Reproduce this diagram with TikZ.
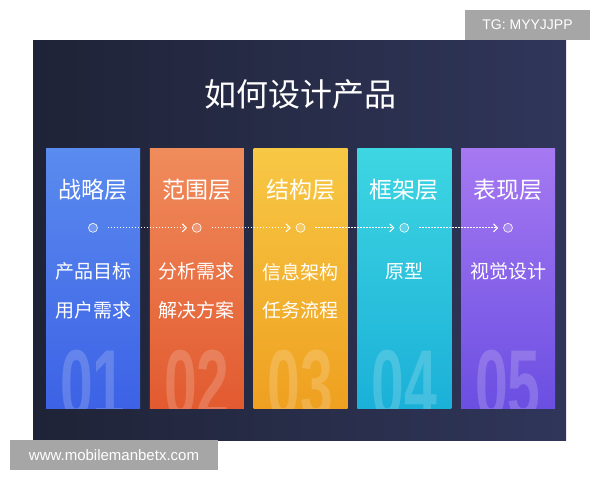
\documentclass[tikz,border=0pt]{standalone}
\usepackage{fontspec}
\setmainfont{Liberation Sans}
\newfontfamily\cjk{Noto Sans CJK SC}
\usetikzlibrary{positioning,arrows.meta}

\definecolor{bgleft}{HTML}{1F2337}
\definecolor{bgright}{HTML}{30365A}
\definecolor{blueA}{HTML}{5A8BEE}
\definecolor{blueB}{HTML}{3D62E6}
\definecolor{orangeA}{HTML}{F08C5C}
\definecolor{orangeB}{HTML}{E25A30}
\definecolor{yellowA}{HTML}{F7C845}
\definecolor{yellowB}{HTML}{EFA020}
\definecolor{cyanA}{HTML}{3ED6E2}
\definecolor{cyanB}{HTML}{1BB0D8}
\definecolor{purpleA}{HTML}{A679F2}
\definecolor{purpleB}{HTML}{6B4FE2}
\definecolor{markgray}{HTML}{A6A6A6}

\tikzset{
  layer/.style={rectangle, minimum width=94pt, minimum height=260pt, inner sep=0pt},
  numtext/.style={anchor=base, inner sep=0pt, xscale=0.6, text=white, text opacity=0.18,
    font=\bfseries\fontsize{98}{98}\selectfont},
  head/.style={text=white, font=\cjk\fontsize{23}{23}\selectfont},
  body/.style={text=white!92, font=\cjk\fontsize{19}{19}\selectfont},
  dot/.style={circle, draw=white!90, line width=0.6pt, fill=white, fill opacity=0.2,
    minimum size=9pt, inner sep=0pt},
  flow/.style={white!90, dash pattern=on 1.5pt off 1.5pt, line width=1pt,
    shorten <=10pt, shorten >=5pt, -{Straight Barb[length=4pt,width=8pt]}},
  wmark/.style={fill=markgray, text=white, inner sep=0pt, font=\fontsize{14}{14}\selectfont}
}

\begin{document}
\begin{tikzpicture}[x=1pt,y=-1pt,node distance=103.75pt,on grid]
   \useasboundingbox[fill=white] (0,0) rectangle (600,480);
   \shade[left color=bgleft, right color=bgright] (33,40) rectangle (566,440);

   \node[text=white, font=\cjk\fontsize{32}{32}\selectfont] (title) at (300,94) {如何设计产品};

   % the five layers
   \node[layer, top color=blueA, bottom color=blueB, path picture={
      \node[numtext] at ([yshift=-10pt]path picture bounding box.south) {01};}] (s1) at (93,278) {};
   \node[layer, top color=orangeA, bottom color=orangeB, path picture={
      \node[numtext] at ([yshift=-10pt]path picture bounding box.south) {02};}] (s2) [right=of s1] {};
   \node[layer, top color=yellowA, bottom color=yellowB, path picture={
      \node[numtext] at ([yshift=-10pt]path picture bounding box.south) {03};}] (s3) [right=of s2] {};
   \node[layer, top color=cyanA, bottom color=cyanB, path picture={
      \node[numtext] at ([yshift=-10pt]path picture bounding box.south) {04};}] (s4) [right=of s3] {};
   \node[layer, top color=purpleA, bottom color=purpleB, path picture={
      \node[numtext] at ([yshift=-10pt]path picture bounding box.south) {05};}] (s5) [right=of s4] {};

   \node[head] (h1) at ([yshift=-42pt]s1.north) {战略层};
   \node[head] (h2) at ([yshift=-42pt]s2.north) {范围层};
   \node[head] (h3) at ([yshift=-42pt]s3.north) {结构层};
   \node[head] (h4) at ([yshift=-42pt]s4.north) {框架层};
   \node[head] (h5) at ([yshift=-42pt]s5.north) {表现层};

   \node[dot] (c1) at ([yshift=-80pt]s1.north) {};
   \node[dot] (c2) at ([yshift=-80pt]s2.north) {};
   \node[dot] (c3) at ([yshift=-80pt]s3.north) {};
   \node[dot] (c4) at ([yshift=-80pt]s4.north) {};
   \node[dot] (c5) at ([yshift=-80pt]s5.north) {};

   \node[body] (t1a) at ([yshift=-124pt]s1.north) {产品目标};
   \node[body] (t1b) at ([yshift=-162pt]s1.north) {用户需求};
   \node[body] (t2a) at ([yshift=-124pt]s2.north) {分析需求};
   \node[body] (t2b) at ([yshift=-162pt]s2.north) {解决方案};
   \node[body] (t3a) at ([yshift=-124pt]s3.north) {信息架构};
   \node[body] (t3b) at ([yshift=-162pt]s3.north) {任务流程};
   \node[body] (t4a) at ([yshift=-124pt]s4.north) {原型};
   \node[body] (t5a) at ([yshift=-124pt]s5.north) {视觉设计};

    \path[flow]
    (c1) edge (c2)
    (c2) edge (c3)
    (c3) edge (c4)
    (c4) edge (c5);

   % watermarks
   \node[wmark, minimum width=125pt, minimum height=30pt] (tg) at (527.5,25) {TG: MYYJJPP};
   \node[wmark, minimum width=208pt, minimum height=30pt, font=\fontsize{15}{15}\selectfont] (www) at (114,455) {www.mobilemanbetx.com};
\end{tikzpicture}
\end{document}
